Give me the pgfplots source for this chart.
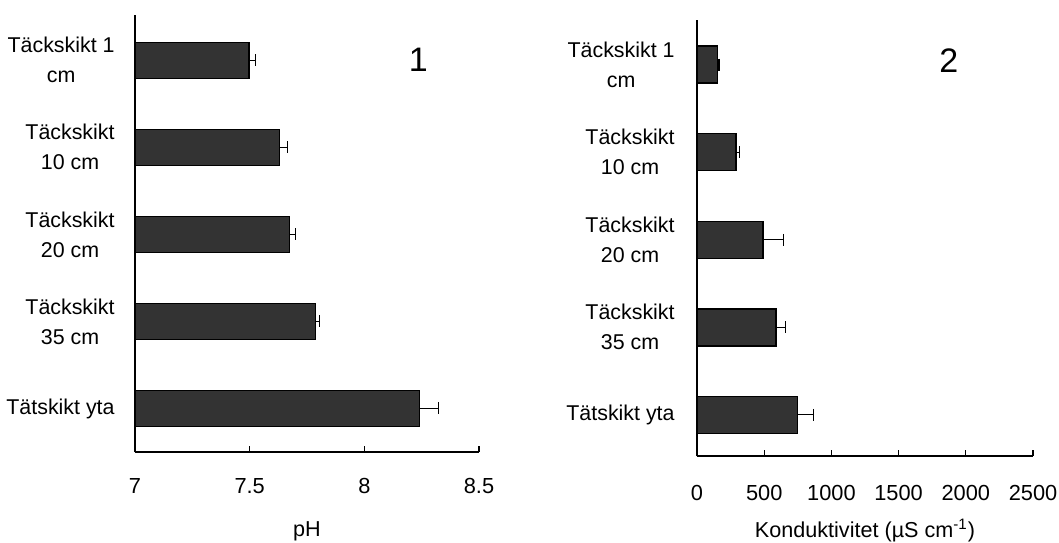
\documentclass[border=0pt]{standalone}
\usepackage{pgfplots}
\pgfplotsset{compat=1.18}
\usepackage{fontspec}
\setmainfont{Liberation Sans}
\definecolor{barfill}{HTML}{333333}
\begin{document}
\begin{tikzpicture}
\useasboundingbox (0,0) rectangle (529.5pt,271pt);
\pgfplotsset{
 mystyle/.style={
  scale only axis,
  anchor=south west,
  xbar,
  axis x line=bottom, axis y line=left,
  axis line style={-, line width=0.6pt, black},
  ytick={0,1,2,3,4},
  yticklabels={Tätskikt yta, {Täckskikt\\35 cm}, {Täckskikt\\20 cm}, {Täckskikt\\10 cm}, {Täckskikt 1\\cm}},
  yticklabel style={align=center, anchor=east, inner sep=0pt, font=\fontsize{10.7}{15}\selectfont},
  ytick style={draw=none},
  xtick align=inside,
  major tick length=3pt,
  xtick style={black, line width=0.6pt},
  xticklabel style={font=\fontsize{10.9}{12}\selectfont, anchor=center},
  /pgf/number format/assume math mode=true,
  /pgf/number format/1000 sep={},
  xlabel style={font=\fontsize{10.8}{12}\selectfont, at={(axis description cs:0.5,0)}, anchor=center},
 },
 barstyle/.style={fill=barfill, draw=black, line width=0.75pt,
  error bars/.cd, x dir=plus, x explicit,
  error bar style={black, line width=0.6pt},
  error mark options={black, rotate=90, mark size=3pt, line width=0.6pt}},
}
\begin{axis}[mystyle,
  at={(67.5pt,45pt)}, width=172pt, height=218.5pt,
  xmin=7, xmax=8.5, xtick={7,7.5,8,8.5},
  ymin=-0.5, ymax=4.52, bar width=18pt,
  yticklabel style={xshift=-8.5pt},
  xticklabel style={yshift=-17pt},
  xlabel={pH}, xlabel style={yshift=-39.5pt}]
\addplot[barstyle] coordinates {
 (8.241,0) +- (0.081,0)
 (7.788,1) +- (0.016,0)
 (7.674,2) +- (0.026,0)
 (7.629,3) +- (0.037,0)
 (7.498,4) +- (0.028,0)
};
\node[font=\fontsize{17}{20}\selectfont] at (axis cs:8.235,4) {1};
\end{axis}
\begin{axis}[mystyle,
  at={(348.5pt,43pt)}, width=168pt, height=218pt,
  xmin=0, xmax=2500, xtick={0,500,1000,1500,2000,2500},
  ymin=-0.47, ymax=4.51, bar width=18.5pt,
  yticklabel style={xshift=-9.5pt},
  xticklabel style={yshift=-18.3pt},
  xlabel={Konduktivitet (µS cm\textsuperscript{-1})}, xlabel style={yshift=-37.3pt}]
\addplot[barstyle] coordinates {
 (749,0) +- (117,0)
 (588,1) +- (69,0)
 (491,2) +- (151,0)
 (290,3) +- (25,0)
 (154,4) +- (10,0)
};
\node[font=\fontsize{17}{20}\selectfont] at (axis cs:1873,4.05) {2};
\end{axis}
\end{tikzpicture}
\end{document}
